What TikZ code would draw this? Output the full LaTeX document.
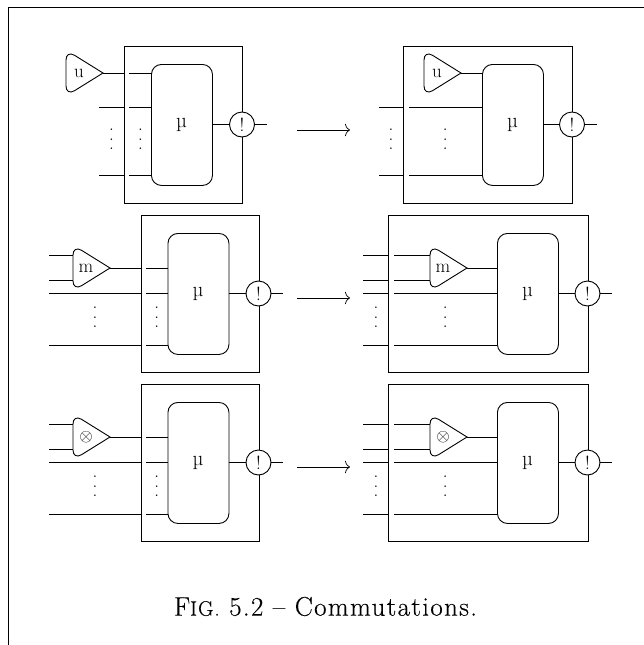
\documentclass[tikz,border=0pt]{standalone}
\usepackage{fontspec}
\usetikzlibrary{arrows.meta}
\newfontfamily\capfont[LetterSpace=5,FakeBold=0.25]{Latin Modern Roman}
\tikzset{
  x=1pt,y=-1pt,
  every path/.append style={line width=0.9pt},
  outerbox/.style={draw,rectangle,inner sep=0pt,minimum height=157pt},
  innerbox/.style={draw,rectangle,rounded corners=10pt,inner sep=0pt,minimum height=121pt,minimum width=61pt,fill=white},
  bang/.style={draw,circle,inner sep=0pt,minimum size=25pt,fill=white,font=\fontsize{19}{19}\selectfont},
  lab/.style={inner sep=0pt,anchor=base,font=\fontsize{19}{19}\selectfont},
  mulab/.style={inner sep=0pt,anchor=base,font=\fontsize{21}{21}\selectfont},
  dotsnode/.style={inner sep=0pt,font=\fontsize{19}{19}\selectfont},
  commute/.style={-{To[length=5pt,width=12.5pt]},line width=0.7pt},
}
\newcommand{\tallDots}{\vbox{\baselineskip=9.7pt\lineskip=0pt\lineskiplimit=-100pt\hbox{.}\hbox{.}\hbox{.}}}
% #1 name, #2 box left, #3 box right, #4 inner left, #5 top
\newcommand{\Panel}[5]{%
  \node[outerbox,minimum width={#3-#2},anchor=north west] (#1box) at (#2,#5) {};
  \node[innerbox,anchor=north west] (#1in) at (#4,#5+18) {};
  \node[mulab] (#1mu) at (#4+30.5,#5+81) {µ};
  \node[bang] (#1c) at (#3,#5+78.5) {!};
  \coordinate (#1out) at (#3+24.5,#5+78.5);
  \draw (#1in.east |- #1c) -- (#1c.west);
  \draw (#1c.east) -- (#1out);
}
% triangle: #1 name, #2 left x, #3 tip y, #4 label
\newcommand{\Tri}[4]{%
  \coordinate (#1tip) at (#2+37,#3);
  \coordinate (#1l) at (#2,#3);
  \draw[fill=white] (#1tip) [rounded corners=10pt] -- (#2,#3-23) -- (#2,#3+23) [sharp corners] -- cycle;
  \node[lab] (#1lab) at (#2+13,#3+4) {#4};
}
% wire from free end into the left side of a node
\newcommand{\Wire}[4]{%
  \coordinate (#1) at (#2,#3);
  \draw (#1) -- (#1 -| #4);
}
\newcommand{\Vd}[3]{\node[dotsnode] (#1) at (#2,#3) {\tallDots};}
\begin{document}
\begin{tikzpicture}
\useasboundingbox (0,0) rectangle (644,645);
\coordinate (fa) at (8.5,645);
\coordinate (fb) at (8.5,7.5);
\coordinate (fc) at (644,7.5);
\draw (fa) -- (fb) -- (fc);
% ---- row 1 left
\Panel{a}{124}{242}{151}{46}
\Tri{at}{66}{73}{u}
\draw (attip) -- (attip -| abox.west);
\Wire{aw1}{129}{73}{ain.west}
\Wire{aw2}{99}{107}{abox.west}
\Wire{aw3}{129}{107}{ain.west}
\Wire{aw4}{99}{175}{abox.west}
\Wire{aw5}{129}{175}{ain.west}
\Vd{ad1}{111.5}{139.5}
\Vd{ad2}{140.5}{139.5}
% ---- row 1 right
\Panel{b}{403}{572}{482}{46}
\Tri{bt}{424}{73}{u}
\draw (bttip) -- (bttip -| bin.west);
\Wire{bw2}{379}{107}{bbox.west}
\Wire{bw3}{409}{107}{bin.west}
\Wire{bw4}{379}{175}{bbox.west}
\Wire{bw5}{409}{175}{bin.west}
\Vd{bd1}{391}{139.5}
\Vd{bd2}{445.3}{139.5}
% ---- row 2 and 3, left
\newcommand{\RowL}[3]{%
  \Panel{#1}{140.5}{258.5}{167.5}{#2}
  \Tri{#1t}{73}{#2+53}{#3}
  \Wire{#1i1}{49}{#2+40.7}{#1tl}
  \Wire{#1i2}{49}{#2+65.3}{#1tl}
  \draw (#1ttip) -- (#1ttip -| #1box.west);
  \Wire{#1w1}{146}{#2+53}{#1in.west}
  \Wire{#1w2}{49}{#2+78.5}{#1box.west}
  \Wire{#1w3}{146}{#2+78.5}{#1in.west}
  \Wire{#1w4}{49}{#2+130}{#1box.west}
  \Wire{#1w5}{146}{#2+130}{#1in.west}
  \Vd{#1d1}{95}{#2+102.3}
  \Vd{#1d2}{156.7}{#2+102.3}
}
\newcommand{\RowR}[3]{%
  \Panel{#1}{388}{587.5}{497}{#2}
  \Tri{#1t}{430}{#2+53}{#3}
  \Wire{#1i1}{363}{#2+40.7}{#1box.west}
  \Wire{#1i2}{363}{#2+65.3}{#1box.west}
  \Wire{#1i3}{394}{#2+40.7}{#1tl}
  \Wire{#1i4}{394}{#2+65.3}{#1tl}
  \draw (#1ttip) -- (#1ttip -| #1in.west);
  \Wire{#1w2}{363}{#2+78.5}{#1box.west}
  \Wire{#1w3}{394}{#2+78.5}{#1in.west}
  \Wire{#1w4}{363}{#2+130}{#1box.west}
  \Wire{#1w5}{394}{#2+130}{#1in.west}
  \Vd{#1d1}{376}{#2+102.3}
  \Vd{#1d2}{445.3}{#2+102.3}
}
\RowL{c}{215}{m}
\RowR{d}{215}{m}
\RowL{e}{384}{\smash{\raisebox{-0.6pt}{$\otimes$}}}
\RowR{f}{384}{\smash{\raisebox{-0.6pt}{$\otimes$}}}
% ---- arrows
\coordinate (ar1a) at (297,130); \coordinate (ar1b) at (350,130);
\coordinate (ar2a) at (297,298); \coordinate (ar2b) at (350,298);
\coordinate (ar3a) at (297,467); \coordinate (ar3b) at (350,467);
\draw[commute] (ar1a) -- (ar1b);
\draw[commute] (ar2a) -- (ar2b);
\draw[commute] (ar3a) -- (ar3b);
% ---- caption
\node[inner sep=0pt,anchor=base,font=\fontsize{27}{30}\selectfont\capfont] (cap) at (325.5,615.7) {{\fontsize{27}{30}\selectfont F\fontsize{21}{30}\selectfont IG.} 5.2 – Commutations.};
\end{tikzpicture}
\end{document}
